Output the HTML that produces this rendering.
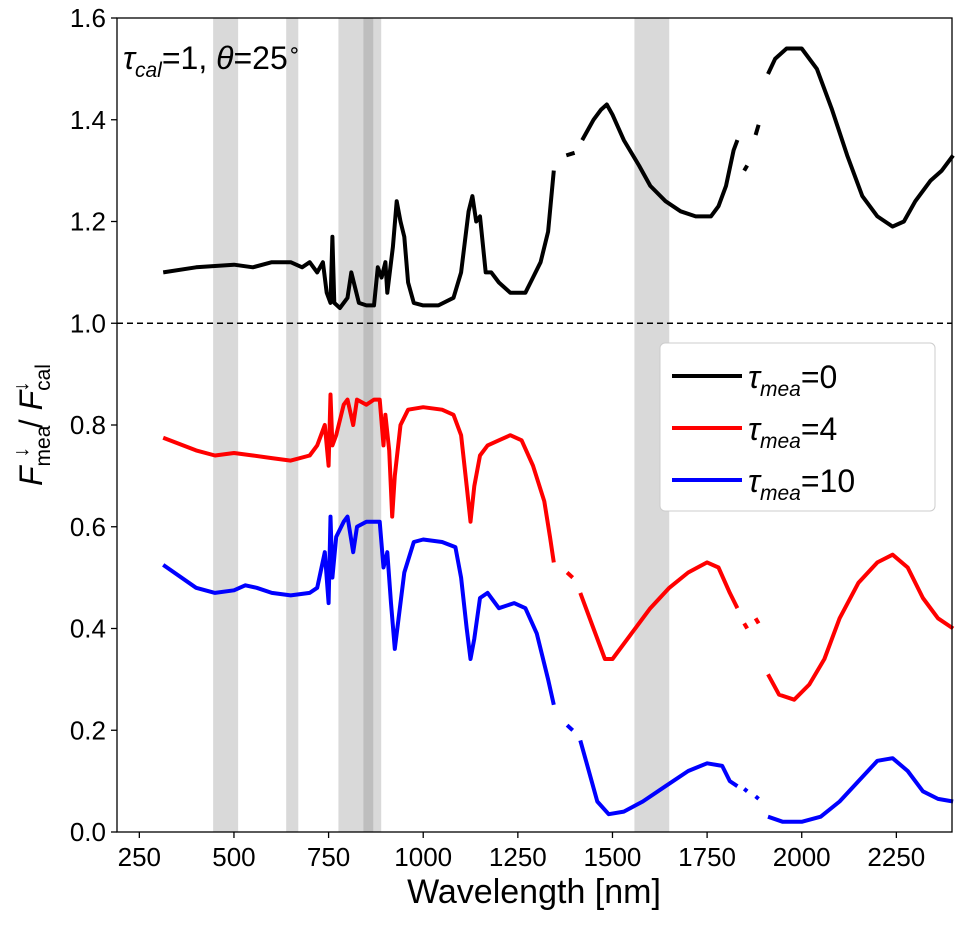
<!DOCTYPE html>
<html><head><meta charset="utf-8"><style>
body{margin:0;background:#fff}
svg text{font-family:"Liberation Sans","DejaVu Sans",sans-serif}
</style></head><body>
<svg id="chart" width="962" height="920" xmlns="http://www.w3.org/2000/svg">
<g id="bands"></g>
<line x1="117" x2="952" y1="323.25" y2="323.25" stroke="#000" stroke-width="1.5" stroke-dasharray="6,4"/>
<g id="series"></g>
<rect x="117" y="18" width="835" height="814" fill="none" stroke="#000" stroke-width="1.3"/>
<g id="xticks"></g>
<g id="yticks"></g>
<text x="534" y="903" font-size="34" text-anchor="middle">Wavelength [nm]</text>
<text transform="translate(42,425) rotate(-90)" font-size="32" text-anchor="middle" font-style="italic">F<tspan font-size="21" font-style="normal" dy="8">mea</tspan><tspan font-size="21" dy="-22" dx="-32">↓</tspan><tspan dy="14" dx="10" font-style="normal"> / </tspan><tspan>F</tspan><tspan font-size="21" font-style="normal" dy="8">cal</tspan><tspan font-size="21" dy="-22" dx="-28">↓</tspan></text>
<text x="123" y="69" font-size="32"><tspan font-style="italic">τ</tspan><tspan font-size="21" font-style="italic" dy="8">cal</tspan><tspan dy="-8">=1, </tspan><tspan font-style="italic">θ</tspan><tspan>=25</tspan><tspan font-size="21" dy="-12">∘</tspan></text>
<g>
<rect x="660" y="343" width="275" height="168" rx="5" fill="#fff" stroke="#ccc" stroke-width="1"/>
<line x1="672" x2="742" y1="376" y2="376" stroke="#000" stroke-width="4"/>
<text x="748" y="388" font-size="32"><tspan font-style="italic">τ</tspan><tspan font-size="21" font-style="italic" dy="8">mea</tspan><tspan dy="-8">=0</tspan></text>
<line x1="672" x2="742" y1="428" y2="428" stroke="#f00" stroke-width="4"/>
<text x="748" y="440" font-size="32"><tspan font-style="italic">τ</tspan><tspan font-size="21" font-style="italic" dy="8">mea</tspan><tspan dy="-8">=4</tspan></text>
<line x1="672" x2="742" y1="480" y2="480" stroke="#00f" stroke-width="4"/>
<text x="748" y="492" font-size="32"><tspan font-style="italic">τ</tspan><tspan font-size="21" font-style="italic" dy="8">mea</tspan><tspan dy="-8">=10</tspan></text>
</g>
</svg>
<script>
const xTicks=[250,500,750,1000,1250,1500,1750,2000,2250];
const yTicks=[0,0.2,0.4,0.6,0.8,1.0,1.2,1.4,1.6];
const bands=[[445,511],[638,670],[776,868],[842,889],[1558,1650]];
const blackWl=[313,400,500,550,600,650,680,700,720,735,745,755,760,765,780,800,810,820,830,850,870,880,890,900,905,920,930,940,950,960,975,1000,1040,1080,1100,1120,1130,1140,1150,1165,1180,1200,1230,1250,1270,1290,1310,1330,1345,null,1378,1400,null,1420,1450,1470,1485,1500,1530,1570,1600,1640,1680,1720,1760,1780,1800,1820,1830,null,1848,1856,null,1878,1886,null,1911,1930,1960,2000,2040,2080,2120,2160,2200,2240,2270,2300,2340,2370,2400];
const blackVal=[1.10,1.11,1.115,1.11,1.12,1.12,1.11,1.12,1.10,1.12,1.06,1.04,1.17,1.04,1.03,1.05,1.10,1.07,1.04,1.035,1.035,1.11,1.09,1.12,1.06,1.15,1.24,1.20,1.17,1.08,1.04,1.035,1.035,1.05,1.10,1.22,1.25,1.20,1.21,1.10,1.10,1.08,1.06,1.06,1.06,1.09,1.12,1.18,1.30,null,1.33,1.335,null,1.36,1.40,1.42,1.43,1.41,1.36,1.31,1.27,1.24,1.22,1.21,1.21,1.23,1.27,1.34,1.36,null,1.30,1.31,null,1.37,1.39,null,1.49,1.52,1.54,1.54,1.50,1.42,1.33,1.25,1.21,1.19,1.20,1.24,1.28,1.30,1.33];
const redWl=[313,400,450,500,550,600,650,700,720,740,750,755,760,770,790,800,815,825,850,870,885,895,900,910,918,925,940,960,1000,1050,1080,1100,1115,1125,1135,1150,1170,1200,1230,1260,1290,1320,1335,1345,null,1380,1395,null,1415,1450,1480,1500,1550,1600,1650,1700,1750,1780,1810,1830,null,1848,1856,null,1878,1886,null,1911,1940,1980,2020,2060,2100,2150,2200,2240,2280,2320,2360,2400];
const redVal=[0.775,0.75,0.74,0.745,0.74,0.735,0.73,0.74,0.76,0.80,0.72,0.86,0.76,0.78,0.84,0.85,0.80,0.85,0.84,0.85,0.85,0.76,0.82,0.75,0.62,0.70,0.80,0.83,0.835,0.83,0.82,0.78,0.68,0.61,0.68,0.74,0.76,0.77,0.78,0.77,0.72,0.65,0.58,0.53,null,0.51,0.50,null,0.47,0.40,0.34,0.34,0.39,0.44,0.48,0.51,0.53,0.52,0.47,0.44,null,0.41,0.40,null,0.42,0.41,null,0.31,0.27,0.26,0.29,0.34,0.42,0.49,0.53,0.545,0.52,0.46,0.42,0.40];
const blueWl=[313,400,450,500,530,560,600,650,700,720,740,750,755,760,770,790,800,815,825,850,870,885,895,905,915,925,935,950,975,1000,1050,1085,1100,1115,1125,1135,1150,1170,1200,1240,1270,1300,1330,1345,null,1380,1395,null,1415,1430,1460,1490,1530,1580,1640,1700,1750,1790,1810,1830,null,1848,1856,null,1878,1886,null,1911,1950,2000,2050,2100,2150,2200,2240,2280,2320,2360,2400];
const blueVal=[0.525,0.48,0.47,0.475,0.485,0.48,0.47,0.465,0.47,0.48,0.55,0.45,0.62,0.50,0.58,0.61,0.62,0.55,0.60,0.61,0.61,0.61,0.52,0.55,0.45,0.36,0.42,0.51,0.57,0.575,0.57,0.56,0.50,0.40,0.34,0.38,0.46,0.47,0.44,0.45,0.44,0.39,0.30,0.25,null,0.21,0.20,null,0.18,0.14,0.06,0.035,0.04,0.06,0.09,0.12,0.135,0.13,0.10,0.09,null,0.085,0.08,null,0.07,0.065,null,0.03,0.02,0.02,0.03,0.06,0.10,0.14,0.145,0.12,0.08,0.065,0.06];

const NS="http://www.w3.org/2000/svg";
const X0=117,X1=952,Y0=832,Y1=18,WMIN=191,WMAX=2397,VMIN=0,VMAX=1.6;
const xs=w=>X0+(w-WMIN)/(WMAX-WMIN)*(X1-X0);
const ys=v=>Y0-(v-VMIN)/(VMAX-VMIN)*(Y0-Y1);
function mk(tag,attrs,parent){const e=document.createElementNS(NS,tag);for(const k in attrs)e.setAttribute(k,attrs[k]);parent.appendChild(e);return e;}

const gb=document.getElementById('bands');
bands.forEach((b,i)=>{
  const r=mk('rect',{x:xs(b[0]),y:Y1,width:xs(b[1])-xs(b[0]),height:Y0-Y1,fill:'#808080','fill-opacity':0.3},gb);
  
  
});

const gs=document.getElementById('series');
function draw(wl,val,color,name){
  let d='',pen=false;
  for(let i=0;i<wl.length;i++){
    if(wl[i]===null||val[i]===null){pen=false;continue;}
    d+=(pen?'L':'M')+xs(wl[i]).toFixed(1)+','+ys(val[i]).toFixed(1);
    pen=true;
  }
  const p=mk('path',{d:d,fill:'none',stroke:color,'stroke-width':4,'stroke-linejoin':'round','stroke-linecap':'butt'},gs);
  
  
}
draw(blackWl,blackVal,'#000','line-tau-0');
draw(redWl,redVal,'#f00','line-tau-4');
draw(blueWl,blueVal,'#00f','line-tau-10');

const gx=document.getElementById('xticks');
xTicks.forEach(t=>{
  const x=xs(t);
  mk('line',{x1:x,x2:x,y1:Y0,y2:Y0+6,stroke:'#000','stroke-width':1.3},gx);
  const tx=mk('text',{x:x,y:Y0+34,'font-size':26,'text-anchor':'middle'},gx);
  tx.textContent=t;
  
  
});
const gy=document.getElementById('yticks');
yTicks.forEach(t=>{
  const y=ys(t);
  mk('line',{x1:X0-6,x2:X0,y1:y,y2:y,stroke:'#000','stroke-width':1.3},gy);
  const tx=mk('text',{x:X0-11,y:y+9,'font-size':26,'text-anchor':'end'},gy);
  tx.textContent=t.toFixed(1);
  
  
});
</script>
</body></html>
